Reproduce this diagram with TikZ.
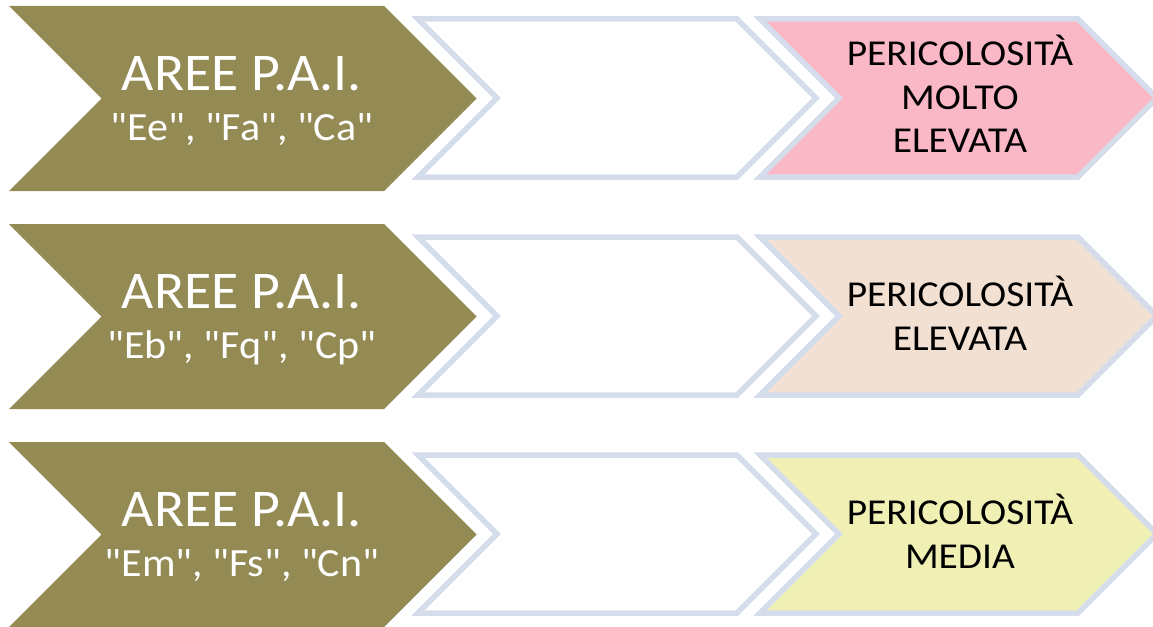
\documentclass[tikz,border=0pt]{standalone}
\usepackage{graphicx}
\usepackage{fontspec}
\setmainfont{Carlito}
\newfontfamily\codefont{Carlito}
\definecolor{paiolive}{HTML}{948A54}
\definecolor{outlineblue}{HTML}{D5DCEB}
\definecolor{riskpink}{HTML}{FAB8C6}
\definecolor{riskpeach}{HTML}{F2E0D3}
\definecolor{riskyellow}{HTML}{F0F0B4}
\newcommand{\wideolive}[1]{\scalebox{1.05}[1]{#1}}
\newcommand{\widerisk}[1]{\scalebox{1.08}[1]{#1}}
\tikzset{
  olivechev/.style={fill=paiolive},
  emptychev/.style={fill=white, draw=outlineblue, line width=5.5},
  riskchev/.style={draw=outlineblue, line width=5.5},
  areetitle/.style={text=white, font=\fontsize{53}{53}\selectfont, anchor=base, inner sep=0pt},
  areecodes/.style={text=white, font=\codefont\fontsize{40}{40}\selectfont, anchor=base, inner sep=0pt},
  risktext/.style={text=black, font=\fontsize{36.5}{36.5}\selectfont, anchor=base, inner sep=0pt}
}
% chevron: x, ytop, width of body, height
\newcommand{\chevshape}[4]{(#1,#2) -- ++(#3,0) -- ++(#4/2,#4/2) -- ++(-#4/2,#4/2) -- ++(-#3,0) -- ++(#4/2,-#4/2) -- cycle}
\begin{document}
\begin{tikzpicture}[x=1pt,y=-1pt,line join=miter]
\useasboundingbox (0,0) rectangle (1153,626);
\begin{scope}
\clip (0,0) rectangle (1153,626);
% row 1
\path[olivechev] \chevshape{9}{6}{375}{185};
\path[emptychev] \chevshape{418}{19}{319}{158};
\path[riskchev, fill=riskpink] \chevshape{760}{19}{318}{158};
% row 2
\path[olivechev] \chevshape{9}{224}{375}{185};
\path[emptychev] \chevshape{418}{237}{319}{158};
\path[riskchev, fill=riskpeach] \chevshape{760}{237}{318}{158};
% row 3
\path[olivechev] \chevshape{9}{442}{375}{185};
\path[emptychev] \chevshape{418}{455}{319}{158};
\path[riskchev, fill=riskyellow] \chevshape{760}{455}{318}{158};
\end{scope}
% texts row 1
\node[areetitle] (a1) at (242,90) {\wideolive{AREE P.A.I.}};
\node[areecodes] (c1) at (242,140) {\wideolive{"Ee", "Fa", "Ca"}};
\node[risktext] (p1a) at (960,66) {\widerisk{PERICOLOSITÀ}};
\node[risktext] (p1b) at (960,109) {\widerisk{MOLTO}};
\node[risktext] (p1c) at (960,152) {\widerisk{ELEVATA}};
% texts row 2
\node[areetitle] (a2) at (242,308) {\wideolive{AREE P.A.I.}};
\node[areecodes] (c2) at (242,358) {\wideolive{"Eb", "Fq", "Cp"}};
\node[risktext] (p2a) at (960,306) {\widerisk{PERICOLOSITÀ}};
\node[risktext] (p2b) at (960,350) {\widerisk{ELEVATA}};
% texts row 3
\node[areetitle] (a3) at (242,526) {\wideolive{AREE P.A.I.}};
\node[areecodes] (c3) at (242,576) {\wideolive{"Em", "Fs", "Cn"}};
\node[risktext] (p3a) at (960,524) {\widerisk{PERICOLOSITÀ}};
\node[risktext] (p3b) at (960,568) {\widerisk{MEDIA}};
\end{tikzpicture}
\end{document}
